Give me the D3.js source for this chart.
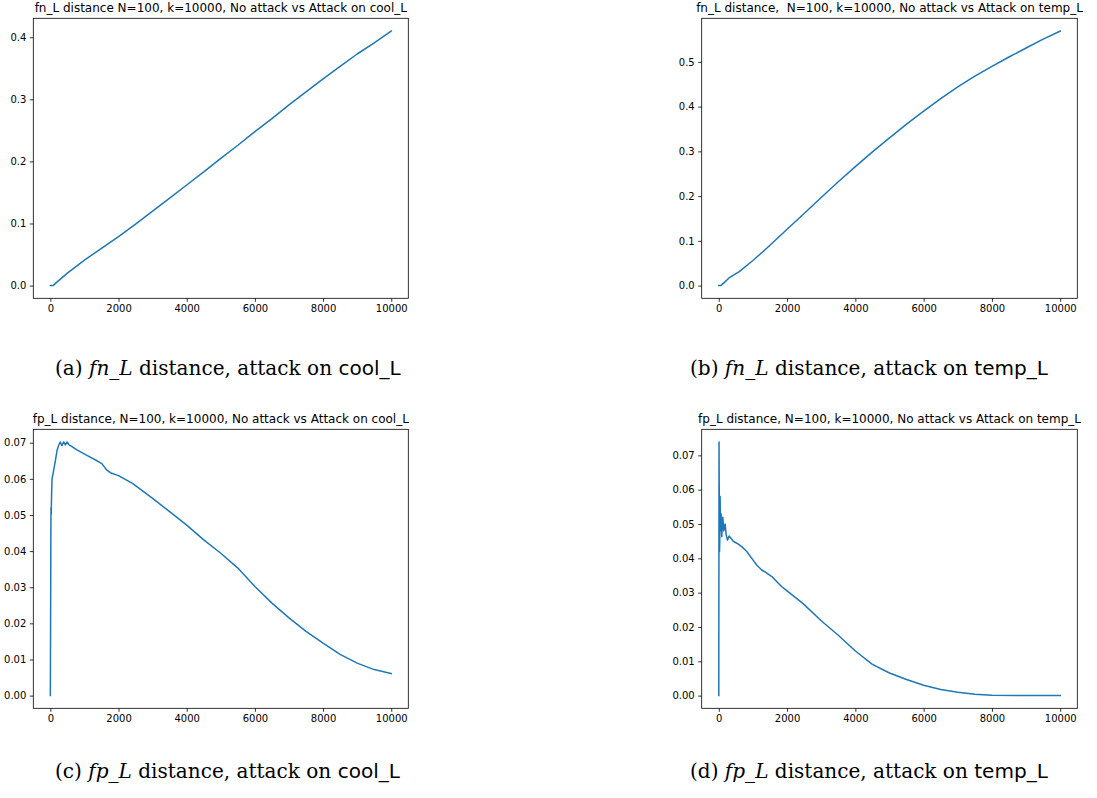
<!DOCTYPE html>
<html>
<head>
<meta charset="utf-8">
<script src="https://cdn.jsdelivr.net/npm/d3@7"></script>
<style>
  body { margin: 0; background: #fff; }
  svg { display: block; }
</style>
</head>
<body>
<div id="chart"></div>
<script>
// (a) fn_L distance, attack on cool_L
const fnCoolSteps = [0, 80, 200, 500, 1000, 1500, 2000, 2500, 3000, 3500, 4000, 4500, 5000, 5500, 6000, 6500, 7000, 7500, 8000, 8500, 9000, 9500, 10000];
const fnCoolValues = [0, 0, 0.006, 0.020, 0.041, 0.060, 0.079, 0.099, 0.120, 0.141, 0.162, 0.183, 0.205, 0.226, 0.248, 0.269, 0.291, 0.312, 0.333, 0.353, 0.373, 0.391, 0.410];

// (b) fn_L distance, attack on temp_L
const fnTempSteps = [0, 60, 150, 300, 600, 1000, 1500, 2000, 2500, 3000, 3500, 4000, 4500, 5000, 5500, 6000, 6500, 7000, 7500, 8000, 8500, 9000, 9500, 10000];
const fnTempValues = [0, 0, 0.006, 0.017, 0.031, 0.056, 0.090, 0.126, 0.161, 0.197, 0.232, 0.266, 0.299, 0.330, 0.361, 0.390, 0.418, 0.444, 0.468, 0.490, 0.511, 0.531, 0.551, 0.569];

// (c) fp_L distance, attack on cool_L
const fpCoolSteps = [0, 10, 15, 20, 25, 35, 50, 100, 150, 200, 245, 290, 340, 390, 440, 490, 540, 635, 780, 980, 1170, 1370, 1510, 1660, 1760, 2000, 2420, 3000, 3500, 4000, 4500, 5000, 5500, 6000, 6500, 7000, 7500, 8000, 8500, 9000, 9500, 10000];
const fpCoolValues = [0, 0.028, 0.045, 0.052, 0.050, 0.055, 0.060, 0.0625, 0.0652, 0.068, 0.0693, 0.0702, 0.0692, 0.0702, 0.0694, 0.0702, 0.0695, 0.0689, 0.068, 0.067, 0.066, 0.065, 0.0642, 0.0624, 0.0617, 0.0609, 0.0587, 0.0546, 0.0509, 0.0472, 0.0431, 0.0394, 0.0353, 0.0302, 0.0256, 0.0215, 0.0178, 0.0145, 0.0114, 0.0090, 0.0072, 0.0061];

// (d) fp_L distance, attack on temp_L
const fpTempSteps = [0, 8, 12, 18, 22, 29, 39, 50, 68, 88, 117, 147, 186, 215, 254, 303, 362, 430, 528, 674, 821, 968, 1114, 1261, 1408, 1554, 1701, 1838, 2000, 2470, 3000, 3500, 4000, 4500, 5000, 5500, 6000, 6500, 7000, 7500, 8000, 9000, 10000];
const fpTempValues = [0, 0.0739, 0.0628, 0.054, 0.042, 0.0453, 0.058, 0.048, 0.053, 0.0463, 0.052, 0.048, 0.050, 0.047, 0.0453, 0.0465, 0.0458, 0.0449, 0.0444, 0.0434, 0.042, 0.040, 0.038, 0.0366, 0.0357, 0.0347, 0.0332, 0.0318, 0.0305, 0.0268, 0.0218, 0.0176, 0.0130, 0.0091, 0.0066, 0.0047, 0.0030, 0.0018, 0.0010, 0.0004, 0.0001, 0, 0];

// tick labels
const xTicks = [0, 2000, 4000, 6000, 8000, 10000];
const fnCoolTicks = [0, 0.1, 0.2, 0.3, 0.4];
const fnTempTicks = [0, 0.1, 0.2, 0.3, 0.4, 0.5];
const fpTicks = [0, 0.01, 0.02, 0.03, 0.04, 0.05, 0.06, 0.07];

// titles and captions
const titles = [
  "fn_L distance N=100, k=10000, No attack vs Attack on cool_L",
  "fn_L distance,  N=100, k=10000, No attack vs Attack on temp_L",
  "fp_L distance, N=100, k=10000, No attack vs Attack on cool_L",
  "fp_L distance, N=100, k=10000, No attack vs Attack on temp_L"
];
const captionLabels = ["(a)", "(b)", "(c)", "(d)"];
const captionMetrics = ["fn", "fn", "fp", "fp"];
const captionTargets = ["cool_L", "temp_L", "cool_L", "temp_L"];

const svg = d3.select("#chart")
  .append("svg")
  .attr("width", 1097)
  .attr("height", 798)
  .style("background-color", "white");

const lineColor = "#1f77b4";
const axisFont = "DejaVu Sans";

// axes boxes like matplotlib subplots
const boxes = [
  { left: 33.3, top: 18.3, width: 375, height: 280 },
  { left: 701.7, top: 18.3, width: 375.6, height: 280 },
  { left: 33.3, top: 429.3, width: 375, height: 279 },
  { left: 701.7, top: 429.3, width: 375.6, height: 279 }
];
const captionPos = [
  { x: 55, y: 375 },
  { x: 690, y: 375 },
  { x: 55, y: 778 },
  { x: 690, y: 778 }
];
const captionWidth = 346; // width of caption (a) in the reference
let captionSize = null;

function padded(extent) {
  const d = (extent[1] - extent[0]) * 0.05;
  return [extent[0] - d, extent[1] + d];
}

function drawPanel(i, steps, values, yTicks, yFormat) {
  const box = boxes[i];
  const data = steps.map((s, j) => ({ s, v: values[j] }));

  const bounds = svg.append("g")
    .attr("transform", `translate(${box.left},${box.top})`);

  const xScale = d3.scaleLinear()
    .domain(padded(d3.extent(steps)))
    .range([0, box.width]);

  const yScale = d3.scaleLinear()
    .domain(padded(d3.extent(values)))
    .range([box.height, 0]);

  const lineGenerator = d3.line()
    .x((d) => xScale(d.s))
    .y((d) => yScale(d.v));

  bounds.append("path")
    .attr("d", lineGenerator(data))
    .attr("fill", "none")
    .attr("stroke", lineColor)
    .attr("stroke-width", 1.5)
    .attr("stroke-linejoin", "round")
    .attr("stroke-linecap", "square");

  const xAxis = d3.axisBottom(xScale)
    .tickValues(xTicks)
    .tickSize(3.5)
    .tickPadding(3.5)
    .tickFormat(d3.format("d"));

  const yAxis = d3.axisLeft(yScale)
    .tickValues(yTicks)
    .tickSize(3.5)
    .tickPadding(3.5)
    .tickFormat(d3.format(yFormat));

  bounds.append("g")
    .attr("transform", `translate(0,${box.height})`)
    .call(xAxis)
    .call((g) => g.select(".domain").remove())
    .call((g) => g.selectAll("line").attr("stroke-width", 0.8).attr("stroke", "#000"))
    .call((g) => g.selectAll("text").attr("fill", "#000"))
    .attr("font-family", axisFont)
    .attr("font-size", 10);

  bounds.append("g")
    .call(yAxis)
    .call((g) => g.select(".domain").remove())
    .call((g) => g.selectAll("line").attr("stroke-width", 0.8).attr("stroke", "#000"))
    .call((g) => g.selectAll("text").attr("fill", "#000"))
    .attr("font-family", axisFont)
    .attr("font-size", 10);

  // frame
  bounds.append("rect")
    .attr("width", box.width)
    .attr("height", box.height)
    .attr("fill", "none")
    .attr("stroke", "#000")
    .attr("stroke-width", 0.8);

  bounds.append("text")
    .attr("x", box.width / 2)
    .attr("y", -6)
    .attr("text-anchor", "middle")
    .attr("font-family", axisFont)
    .attr("font-size", 12)
    .style("white-space", "pre")
    .text(titles[i]);

  // caption below the panel (LaTeX-like: serif, italic math, sans for the variable)
  const cap = svg.append("text")
    .attr("x", captionPos[i].x)
    .attr("y", captionPos[i].y)
    .attr("font-family", "DejaVu Serif")
    .attr("font-size", captionSize || 18)
    .attr("fill", "#000")
    .style("white-space", "pre");
  cap.append("tspan").text(captionLabels[i] + " ");
  cap.append("tspan").attr("font-style", "italic").text(captionMetrics[i] + "_L");
  cap.append("tspan").text(" distance, attack on ");
  cap.append("tspan").attr("font-family", "DejaVu Sans").text(captionTargets[i]);

  // size the first caption to the reference width, reuse for the others
  if (captionSize === null) {
    captionSize = 18 * captionWidth / cap.node().getComputedTextLength();
    cap.attr("font-size", captionSize);
  }
}

drawPanel(0, fnCoolSteps, fnCoolValues, fnCoolTicks, ".1f");
drawPanel(1, fnTempSteps, fnTempValues, fnTempTicks, ".1f");
drawPanel(2, fpCoolSteps, fpCoolValues, fpTicks, ".2f");
drawPanel(3, fpTempSteps, fpTempValues, fpTicks, ".2f");
</script>
</body>
</html>
